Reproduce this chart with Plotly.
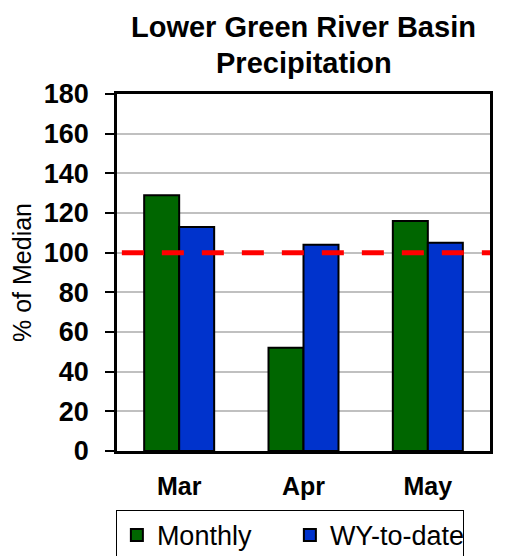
import plotly.graph_objects as go

months = ["Mar", "Apr", "May"]
monthly = [129, 52, 116]
wy_to_date = [113, 104, 105]
median_ref = 100
y_ticks = [0, 20, 40, 60, 80, 100, 120, 140, 160, 180]
title_lines = ["Lower Green River Basin", "Precipitation"]

FONT = "Liberation Sans, Arial, sans-serif"

fig = go.Figure()
fig.add_trace(go.Bar(
    x=months, y=monthly, name="Monthly",
    marker=dict(color="#006600", line=dict(color="black", width=2)),
))
fig.add_trace(go.Bar(
    x=months, y=wy_to_date, name="WY-to-date",
    marker=dict(color="#0033CC", line=dict(color="black", width=2)),
))

fig.add_shape(
    type="line", xref="paper", yref="y",
    x0=0.013, x1=1.0, y0=median_ref, y1=median_ref,
    line=dict(color="#FF0000", width=5, dash="22px,18px"),
    layer="above",
)

for line_text, shift in zip(title_lines, [85, 49]):
    fig.add_annotation(
        text="<b>" + line_text + "</b>",
        xref="paper", yref="paper", x=0.5, y=1,
        xanchor="center", yanchor="top", yshift=shift,
        showarrow=False,
        font=dict(family=FONT, size=29, color="black"),
    )

fig.update_layout(
    width=515, height=556,
    margin=dict(l=109, r=33, t=86, b=113, autoexpand=False),
    paper_bgcolor="white", plot_bgcolor="white",
    barmode="group", bargap=0.437, bargroupgap=0,
    font=dict(family=FONT, color="black"),
    showlegend=True,
    legend=dict(
        orientation="h",
        x=-0.003, xanchor="left",
        y=-0.165, yanchor="top",
        bordercolor="black", borderwidth=1,
        font=dict(family=FONT, size=27, color="black"),
        bgcolor="white",
        entrywidth=128, entrywidthmode="pixels",
    ),
)

fig.update_xaxes(
    automargin=False,
    showline=True, linecolor="black", linewidth=2.5, mirror=True,
    ticks="", tickfont=dict(family=FONT, size=25, weight="bold", color="black"),
    ticklabelstandoff=11,
    showgrid=False,
)
fig.update_yaxes(
    automargin=False,
    range=[0, 180], tickvals=y_ticks,
    showline=True, linecolor="black", linewidth=2.5, mirror=True,
    ticks="outside", ticklen=9, tickwidth=1.5, tickcolor="black",
    tickfont=dict(family=FONT, size=27, weight="bold", color="black"),
    ticklabelstandoff=11,
    showgrid=True, gridcolor="#C0C0C0", gridwidth=1.5,
    zeroline=False,
    title=dict(text="% of Median", font=dict(family=FONT, size=25, color="black"), standoff=6),
)

fig.write_html("out.html")
